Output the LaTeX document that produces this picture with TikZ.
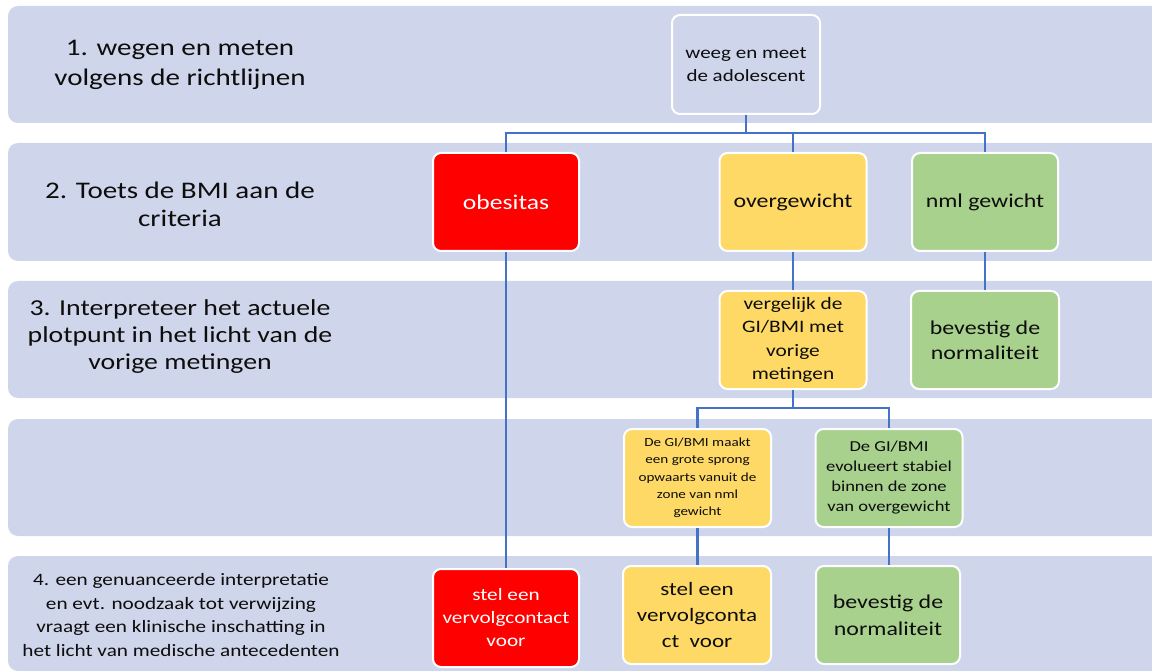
\documentclass[tikz,border=0pt]{standalone}
\usepackage{fontspec}
\setmainfont[FakeStretch=1.22]{Carlito}
\definecolor{band}{HTML}{CFD5EA}
\definecolor{lineblue}{HTML}{4472C4}
\definecolor{ored}{HTML}{FF0000}
\definecolor{oyel}{HTML}{FFD966}
\definecolor{ogrn}{HTML}{A9D18E}
\definecolor{txt}{HTML}{0D0D0D}
\begin{document}
\begin{tikzpicture}[x=1pt,y=-1pt,
  bandbox/.style={fill=band, rounded corners=10pt},
  card/.style={draw=white, line width=2pt, rounded corners=8pt, minimum width=147pt, minimum height=98pt, align=center, inner sep=2pt, text=txt},
  conn/.style={draw=lineblue, line width=2.8pt},
  lbl/.style={align=center, text=txt}]
\useasboundingbox (0,0) rectangle (1152,671);
\begin{scope}
\clip (0,0) rectangle (1152,671);
% bands
\fill[bandbox] (8,6) rectangle (1175,123);
\fill[bandbox] (8,143) rectangle (1175,261);
\fill[bandbox] (8,281) rectangle (1175,398);
\fill[bandbox] (8,419) rectangle (1175,536);
\fill[bandbox] (8,556) rectangle (1175,671);
\end{scope}
% left labels
\node[lbl, font=\fontsize{23.8}{30}\selectfont] (l1) at (180,65) {1. wegen en meten\\volgens de richtlijnen};
\node[lbl, font=\fontsize{23.8}{28}\selectfont] (l2) at (180,204) {2. Toets de BMI aan de\\criteria};
\node[lbl, font=\fontsize{22.8}{27}\selectfont] (l3) at (180,337) {3. Interpreteer het actuele\\plotpunt in het licht van de\\vorige metingen};
\node[lbl, font=\fontsize{17.4}{23.5}\selectfont] (l4) at (181,615) {4. een genuanceerde interpretatie\\en evt. noodzaak tot verwijzing\\vraagt een klinische inschatting in\\het licht van medische antecedenten};
% cards
\node[card, fill=band, minimum width=148pt, minimum height=99pt, font=\fontsize{17.2}{23}\selectfont] (weeg) at (746,64.5) {weeg en meet\\de adolescent};
\node[card, fill=ored, text=white, minimum width=146pt, font=\fontsize{21}{25}\selectfont] (obes) at (506,202) {obesitas};
\node[card, fill=oyel, font=\fontsize{19.6}{24}\selectfont] (over) at (793,202) {overgewicht};
\node[card, fill=ogrn, minimum width=146pt, font=\fontsize{19.6}{24}\selectfont] (nml) at (985,202) {nml gewicht};
\node[card, fill=oyel, font=\fontsize{17.5}{23.3}\selectfont] (verg) at (793,340) {vergelijk de\\GI/BMI met\\vorige\\metingen};
\node[card, fill=ogrn, minimum width=148pt, font=\fontsize{19.6}{25}\selectfont] (bev3) at (985,340) {bevestig de\\normaliteit};
\node[card, fill=oyel, font=\fontsize{12.4}{17.3}\selectfont] (gim) at (697.5,478) {De GI/BMI maakt\\een grote sprong\\opwaarts vanuit de\\zone van nml\\gewicht};
\node[card, fill=ogrn, font=\fontsize{15.2}{20}\selectfont] (gie) at (889,478) {De GI/BMI\\evolueert stabiel\\binnen de zone\\van overgewicht};
\node[card, fill=ored, text=white, minimum width=146pt, font=\fontsize{17.4}{23}\selectfont] (rstel) at (506,618) {stel een\\vervolgcontact\\voor};
\node[card, fill=oyel, minimum width=148pt, font=\fontsize{18.9}{26}\selectfont] (ystel) at (697,615) {stel een\\vervolgconta\\ct\ \ voor};
\node[card, fill=ogrn, minimum width=144pt, font=\fontsize{19.6}{27}\selectfont] (gstel) at (888,615) {bevestig de\\normaliteit};
% connectors
\coordinate (j1) at (746,133);
\coordinate (j2) at (793,408);
\draw[conn] (weeg.south) -- (j1);
\draw[conn] (j1) -| (obes.north);
\draw[conn] (j1) -| (over.north);
\draw[conn] (j1) -| (nml.north);
\draw[conn] (obes.south) -- (rstel.north);
\draw[conn] (over.south) -- (verg.north);
\draw[conn] (nml.south) -- (bev3.north);
\draw[conn] (verg.south) -- (j2);
\draw[conn] (j2) -| (gim.north);
\draw[conn] (j2) -| (gie.north);
\draw[conn] (gim.south) -- (gim.south |- ystel.north);
\draw[conn] (gie.south) -- (gie.south |- gstel.north);
\end{tikzpicture}
\end{document}
